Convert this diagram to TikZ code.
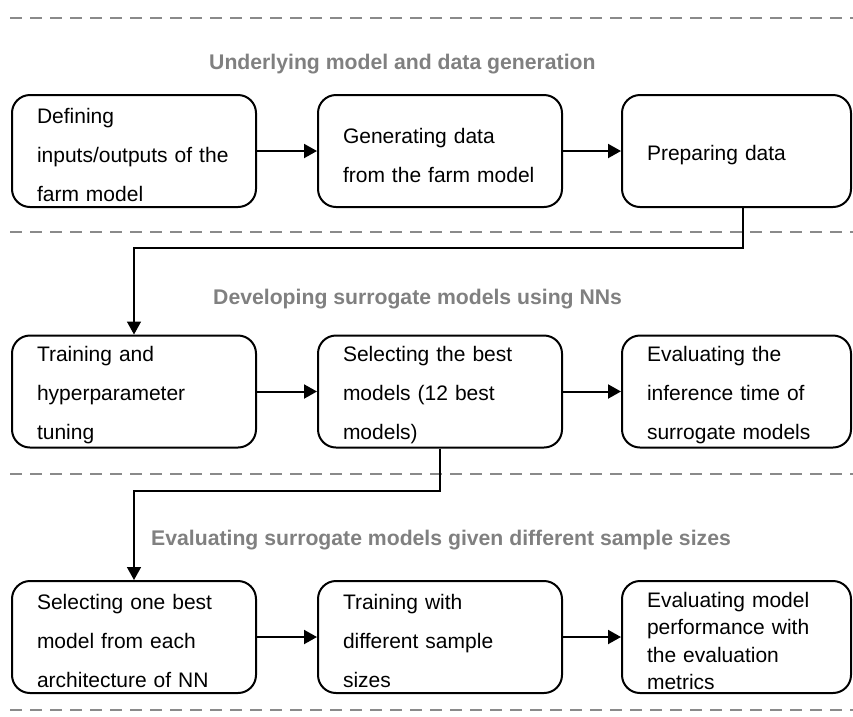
\documentclass[tikz,border=0pt]{standalone}
\usepackage{fontspec}
\setmainfont{Liberation Sans}
\usetikzlibrary{arrows.meta}
\definecolor{sectiongray}{HTML}{808080}
\definecolor{dashgray}{HTML}{8A8A8A}
\tikzset{
  stepbox/.style={draw=black, line width=2pt, rounded corners=18pt,
    minimum height=112pt, inner xsep=25pt, inner ysep=0pt, align=left,
    font=\fontsize{21}{39}\selectfont,
    execute at begin node={\leavevmode\vadjust pre{\vskip 8pt}}},
  widebox/.style={stepbox, text width=194pt},
  narrowbox/.style={stepbox, text width=179pt},
  tightlines/.style={font=\fontsize{21}{27.5}\selectfont,
    execute at begin node={}},
  flow/.style={line width=2pt, -{Triangle[length=13pt,width=14pt]}},
  link/.style={line width=1.6pt, -{Triangle[length=13pt,width=14pt]}},
  separator/.style={dashgray, line width=2.5pt, dash pattern=on 12pt off 8pt},
  heading/.style={text=sectiongray, font=\fontsize{21.2}{25}\selectfont\bfseries,
    anchor=west, inner sep=0pt},
}
\begin{document}
\begin{tikzpicture}[x=1pt, y=-1pt]
\useasboundingbox (0,0) rectangle (853,716);

% section separators
\draw[separator] (10,18)  -- (853,18);
\draw[separator] (10,232) -- (853,232);
\draw[separator] (10,474) -- (853,474);
\draw[separator] (10,710) -- (853,710);

% section headings
\node[heading] (h1) at (209,64)  {Underlying model and data generation};
\node[heading] (h2) at (213,299) {Developing surrogate models using NNs};
\node[heading] (h3) at (151,540) {Evaluating surrogate models given different sample sizes};

% stage 1: data generation
\node[widebox]   (b1) at (134,151)   {Defining\\inputs/outputs of the\\farm model};
\node[widebox]   (b2) at (440,151)   {Generating data\\from the farm model};
\node[narrowbox] (b3) at (736.5,151) {Preparing data};

% stage 2: surrogate development
\node[widebox]   (b4) at (134,391.5)   {Training and\\hyperparameter\\tuning};
\node[widebox]   (b5) at (440,391.5)   {Selecting the best\\models (12 best\\models)};
\node[narrowbox] (b6) at (736.5,391.5) {Evaluating the\\inference time of\\surrogate models};

% stage 3: sample-size study
\node[widebox]   (b7) at (134,637)   {Selecting one best\\model from each\\architecture of NN};
\node[widebox]   (b8) at (440,637)   {Training with\\different sample\\sizes};
\node[narrowbox, tightlines] (b9) at (736.5,637) {Evaluating model\\performance with\\the evaluation\\metrics};

% flow within each stage
\draw[flow] (b1) -- (b2);
\draw[flow] (b2) -- (b3);
\draw[flow] (b4) -- (b5);
\draw[flow] (b5) -- (b6);
\draw[flow] (b7) -- (b8);
\draw[flow] (b8) -- (b9);

% links between stages
\draw[link] ([xshift=6.5pt]b3.south) -- ++(0,40) -| (b4.north);
\draw[link] (b5.south) -- ++(0,42.5) -| (b7.north);
\end{tikzpicture}
\end{document}
